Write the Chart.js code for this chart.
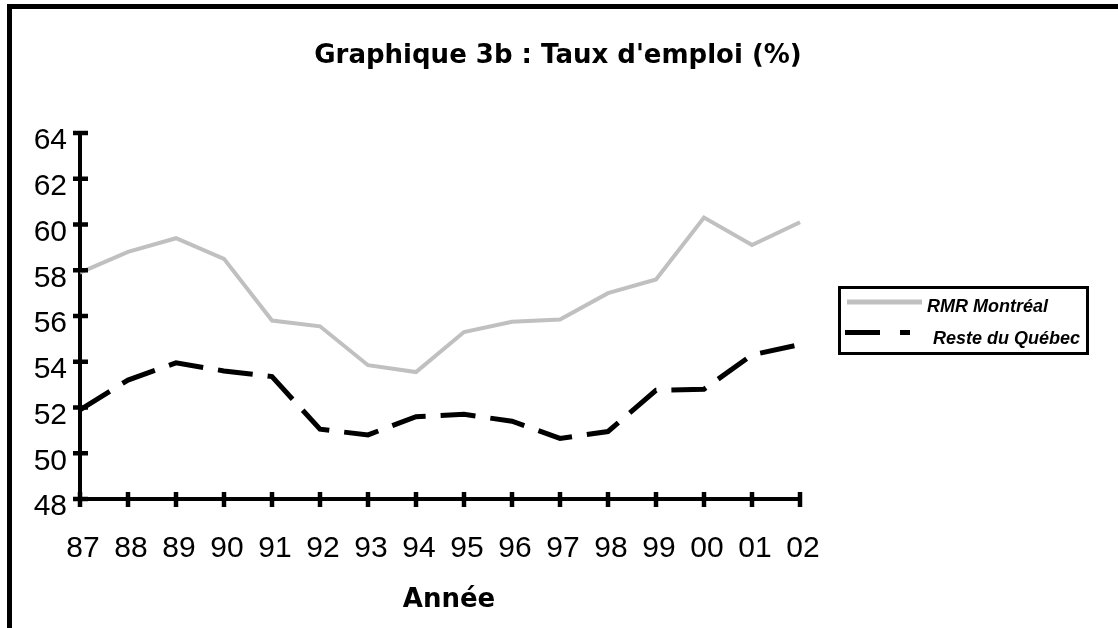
<!DOCTYPE html>
<html>
<head>
<meta charset="utf-8">
<script src="https://cdn.jsdelivr.net/npm/chart.js@4.4.0/dist/chart.umd.min.js"></script>
<style>
    body { margin: 0; background: #fff; overflow: hidden; }
    #wrap { position: relative; width: 1118px; height: 628px; }
    #frame {
        position: absolute; left: 7px; top: 4px; width: 1200px; height: 700px;
        border-left: 5px solid #000; border-top: 5px solid #000;
    }
    canvas { position: absolute; left: 0; top: 0; }
</style>
</head>
<body>
<div id="wrap">
    <div id="frame"></div>
    <canvas id="chart" width="1118" height="628"></canvas>
</div>
<script>
const years = ['87', '88', '89', '90', '91', '92', '93', '94', '95', '96', '97', '98', '99', '00', '01', '02'];
const montreal = [57.9, 58.8, 59.4, 58.5, 55.8, 55.55, 53.85, 53.55, 55.3, 55.75, 55.85, 57.0, 57.6, 60.3, 59.1, 60.1];
const quebec = [51.9, 53.2, 53.95, 53.6, 53.35, 51.05, 50.8, 51.6, 51.7, 51.4, 50.65, 50.95, 52.75, 52.8, 54.3, 54.75];
const seriesNames = ['RMR Montréal', 'Reste du Québec'];
const chartTitle = "Graphique 3b : Taux d'emploi (%)";
const xTitle = 'Année';

// tick marks crossing the axes, titles and the boxed legend
const decorPlugin = {
    id: 'decor',
    afterDraw(chart) {
        const ctx = chart.ctx;
        const xs = chart.scales.x, ys = chart.scales.y;
        ctx.save();
        ctx.strokeStyle = '#000';
        ctx.lineWidth = 4.5;
        ys.ticks.forEach((t, i) => {
            const y = ys.getPixelForTick(i);
            ctx.beginPath(); ctx.moveTo(73, y); ctx.lineTo(88, y); ctx.stroke();
        });
        xs.ticks.forEach((t, i) => {
            const x = xs.getPixelForTick(i);
            ctx.beginPath(); ctx.moveTo(x, 492); ctx.lineTo(x, 507); ctx.stroke();
        });

        ctx.fillStyle = '#000';
        ctx.textAlign = 'center';
        ctx.textBaseline = 'alphabetic';
        ctx.font = 'bold 26px "DejaVu Sans"';
        ctx.fillText(chartTitle, 558, 63);
        ctx.fillText(xTitle, 449, 607);

        // legend
        ctx.lineWidth = 3;
        ctx.strokeRect(839.5, 287.5, 248, 66);
        ctx.strokeStyle = '#c0c0c0';
        ctx.lineWidth = 5;
        ctx.beginPath(); ctx.moveTo(847, 302); ctx.lineTo(922, 302); ctx.stroke();
        ctx.fillStyle = '#000';
        ctx.fillRect(845, 330, 35, 5);
        ctx.fillRect(900, 330, 10, 5);
        ctx.textAlign = 'left';
        ctx.font = 'italic bold 18px "Liberation Sans"';
        ctx.fillText(seriesNames[0], 927, 312);
        ctx.fillText(seriesNames[1], 933, 344);
        ctx.restore();
    }
};

const ctx = document.getElementById('chart').getContext('2d');
const chart = new Chart(ctx, {
    type: 'line',
    data: {
        labels: years,
        datasets: [{
            label: seriesNames[0],
            data: montreal,
            borderColor: '#c0c0c0',
            borderWidth: 4,
            pointRadius: 0,
            tension: 0
        }, {
            label: seriesNames[1],
            data: quebec,
            borderColor: '#000',
            borderWidth: 5,
            borderDash: [35, 15],
            pointRadius: 0,
            tension: 0
        }]
    },
    options: {
        responsive: false,
        animation: false,
        devicePixelRatio: 1,
        layout: { padding: { left: 0, top: 133, right: 318, bottom: 0 } },
        plugins: {
            legend: { display: false },
            title: { display: false },
            tooltip: { enabled: false }
        },
        scales: {
            x: {
                offset: false,
                grid: { display: false, drawTicks: false },
                border: { display: true, color: '#000', width: 4 },
                ticks: {
                    color: '#000',
                    padding: 32,
                    labelOffset: 3,
                    maxRotation: 0,
                    autoSkip: false,
                    font: { family: '"Liberation Sans"', size: 30 }
                },
                afterFit: s => { s.height = 129; }
            },
            y: {
                min: 48,
                max: 64,
                grid: { display: false, drawTicks: false },
                border: { display: true, color: '#000', width: 4 },
                ticks: {
                    color: '#000',
                    stepSize: 2,
                    padding: 13,
                    labelOffset: 8,
                    font: { family: '"Liberation Sans"', size: 30 }
                },
                afterFit: s => { s.width = 80; }
            }
        }
    },
    plugins: [decorPlugin]
});
</script>
</body>
</html>
